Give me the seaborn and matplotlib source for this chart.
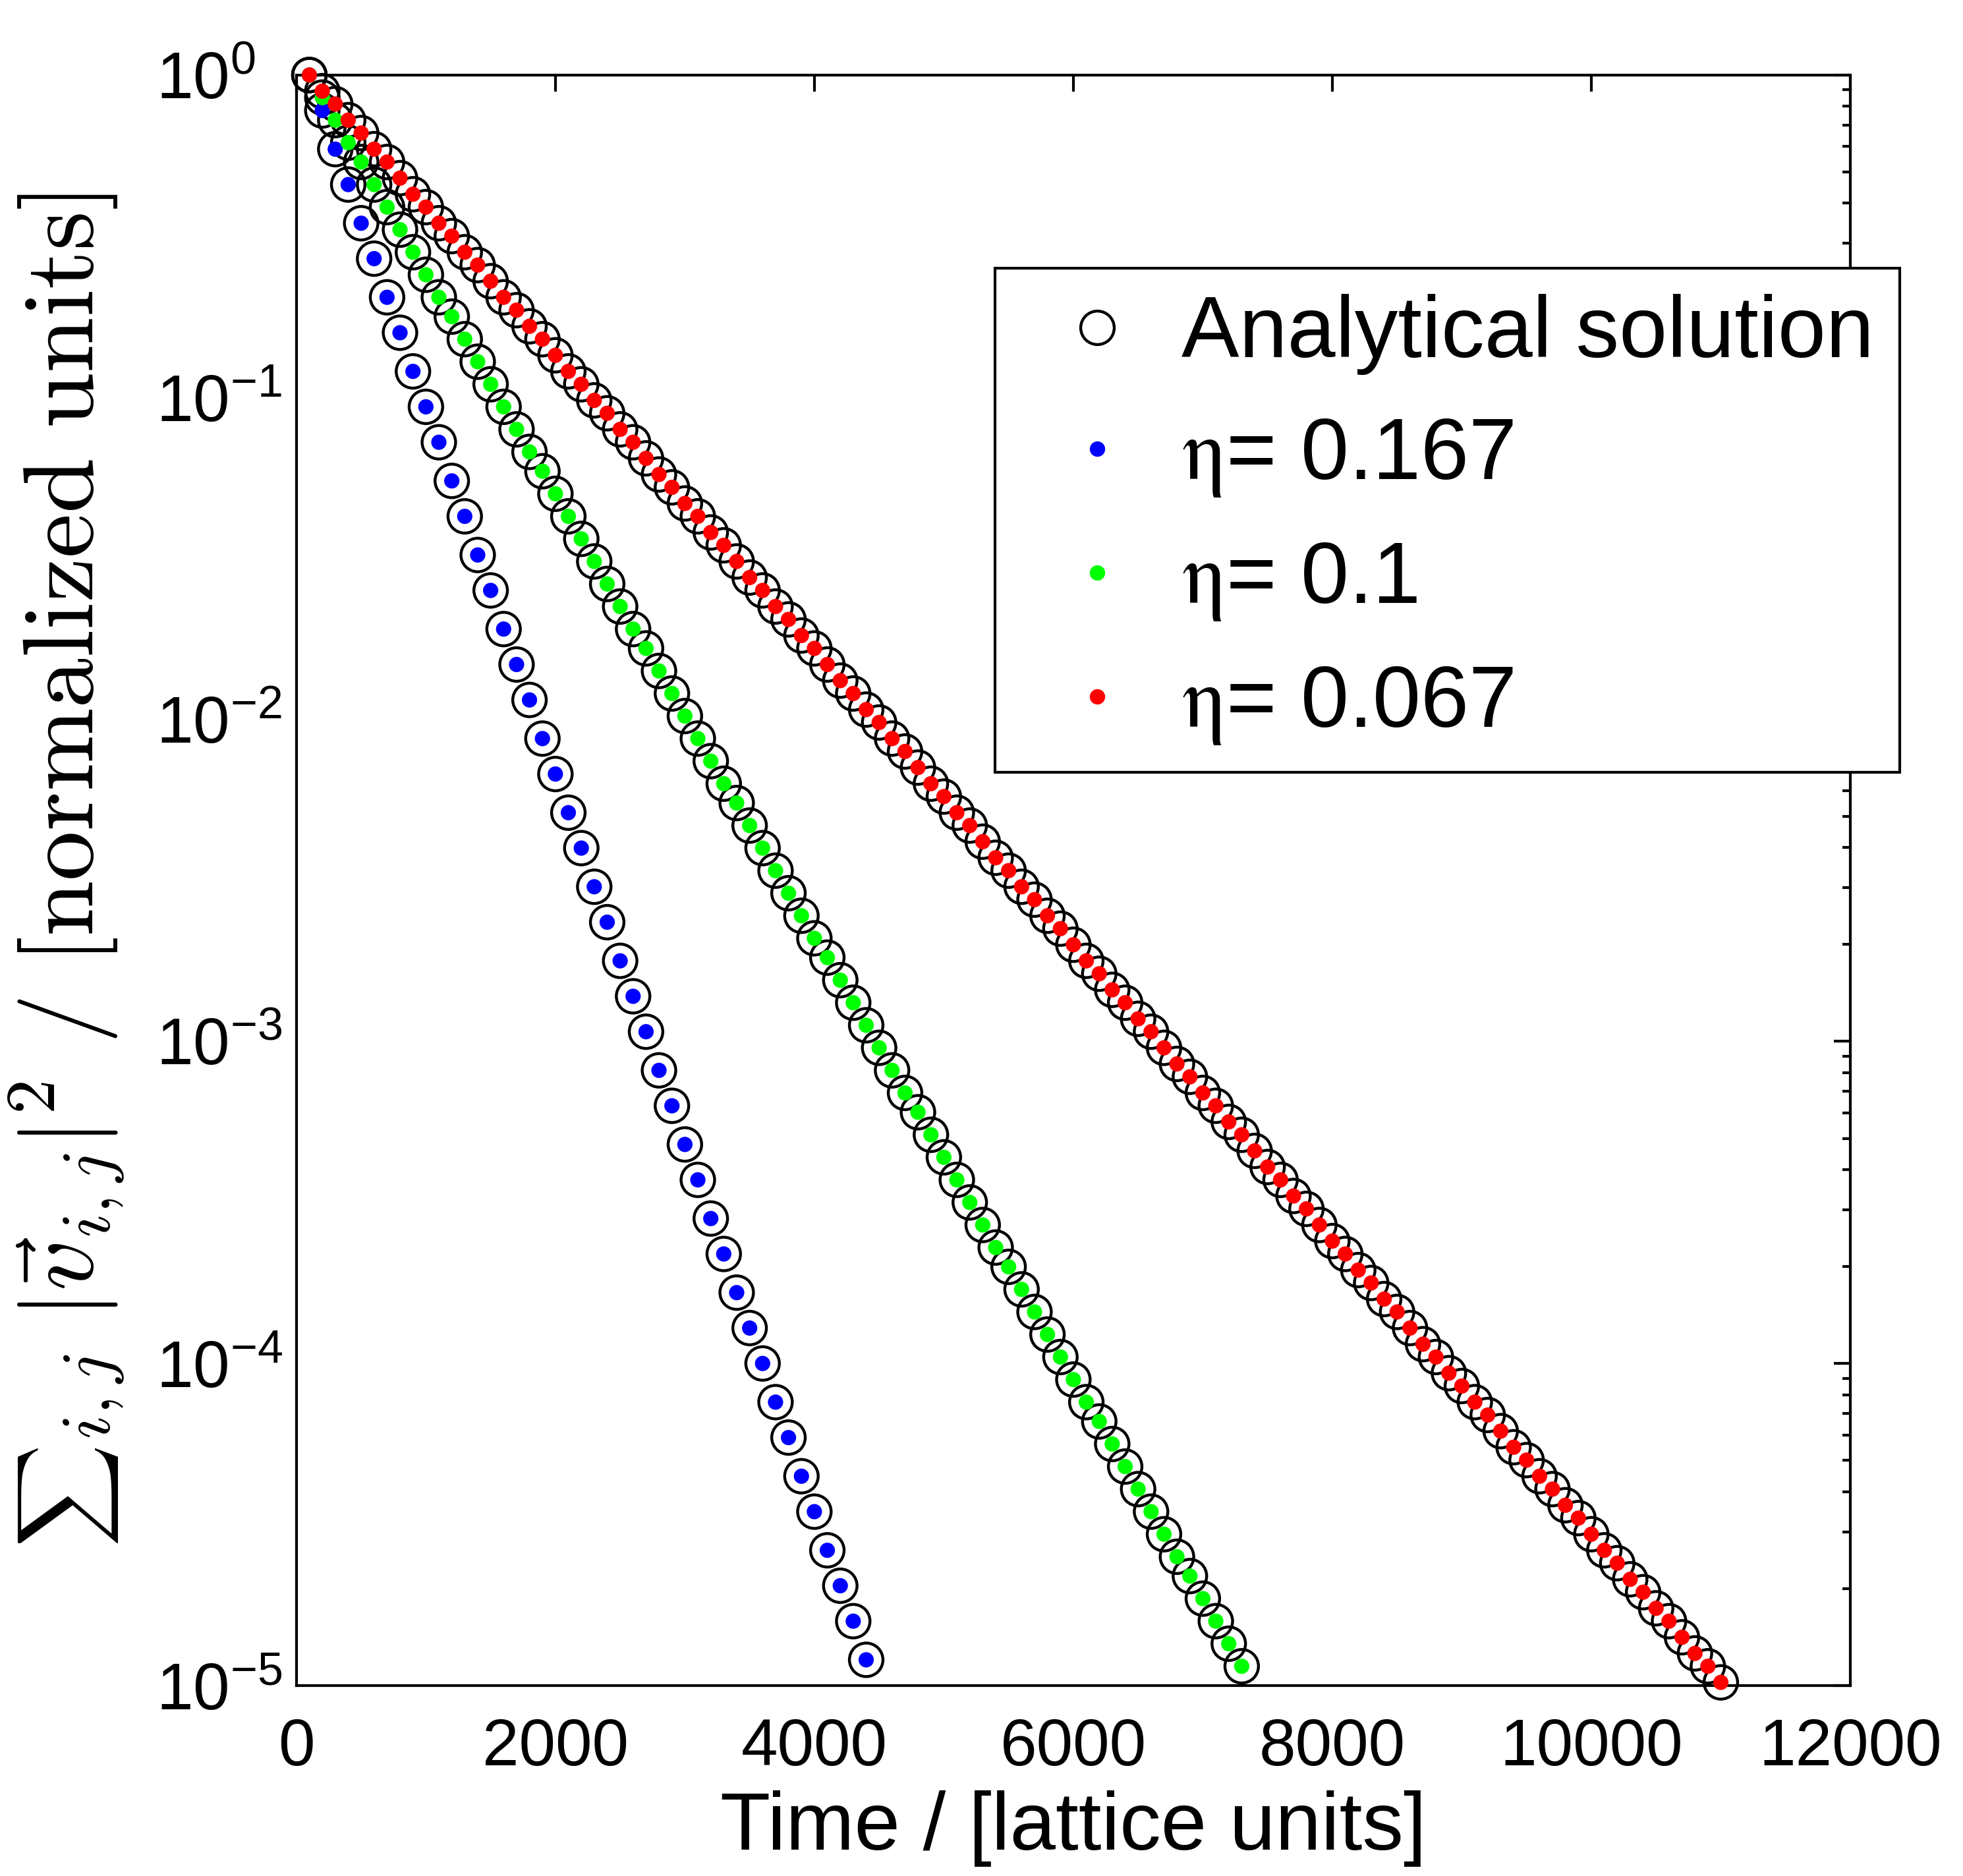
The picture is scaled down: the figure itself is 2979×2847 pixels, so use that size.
import numpy as np
import pandas as pd
import matplotlib
matplotlib.use("Agg")
import matplotlib.pyplot as plt
import seaborn as sns
from matplotlib.ticker import FixedLocator, LogLocator, FuncFormatter, NullFormatter
from matplotlib.lines import Line2D
from matplotlib.font_manager import FontProperties

# --- data ---
# sampling times (lattice units), shared by all runs
time_steps = [
    100, 200, 300, 400, 500, 600, 700, 800, 900, 1000,
    1100, 1200, 1300, 1400, 1500, 1600, 1700, 1800, 1900, 2000,
    2100, 2200, 2300, 2400, 2500, 2600, 2700, 2800, 2900, 3000,
    3100, 3200, 3300, 3400, 3500, 3600, 3700, 3800, 3900, 4000,
    4100, 4200, 4300, 4400, 4500, 4600, 4700, 4800, 4900, 5000,
    5100, 5200, 5300, 5400, 5500, 5600, 5700, 5800, 5900, 6000,
    6100, 6200, 6300, 6400, 6500, 6600, 6700, 6800, 6900, 7000,
    7100, 7200, 7300, 7400, 7500, 7600, 7700, 7800, 7900, 8000,
    8100, 8200, 8300, 8400, 8500, 8600, 8700, 8800, 8900, 9000,
    9100, 9200, 9300, 9400, 9500, 9600, 9700, 9800, 9900, 10000,
    10100, 10200, 10300, 10400, 10500, 10600, 10700, 10800, 10900, 11000,
]

# log10 of the normalised kinetic energy, one list per viscosity
log_energy_167 = [
    0.00, -0.11, -0.23, -0.34, -0.46, -0.57, -0.69, -0.80, -0.92, -1.03,
    -1.14, -1.26, -1.37, -1.49, -1.60, -1.72, -1.83, -1.94, -2.06, -2.17,
    -2.29, -2.40, -2.52, -2.63, -2.75, -2.86, -2.97, -3.09, -3.20, -3.32,
    -3.43, -3.55, -3.66, -3.78, -3.89, -4.00, -4.12, -4.23, -4.35, -4.46,
    -4.58, -4.69, -4.80, -4.92,
]
log_energy_100 = [
    0.00, -0.07, -0.14, -0.21, -0.27, -0.34, -0.41, -0.48, -0.55, -0.62,
    -0.69, -0.75, -0.82, -0.89, -0.96, -1.03, -1.10, -1.17, -1.23, -1.30,
    -1.37, -1.44, -1.51, -1.58, -1.65, -1.72, -1.78, -1.85, -1.92, -1.99,
    -2.06, -2.13, -2.20, -2.26, -2.33, -2.40, -2.47, -2.54, -2.61, -2.68,
    -2.74, -2.81, -2.88, -2.95, -3.02, -3.09, -3.16, -3.22, -3.29, -3.36,
    -3.43, -3.50, -3.57, -3.64, -3.70, -3.77, -3.84, -3.91, -3.98, -4.05,
    -4.12, -4.18, -4.25, -4.32, -4.39, -4.46, -4.53, -4.60, -4.66, -4.73,
    -4.80, -4.87, -4.94,
]
log_energy_067 = [
    0.00, -0.05, -0.09, -0.14, -0.18, -0.23, -0.27, -0.32, -0.37, -0.41,
    -0.46, -0.50, -0.55, -0.59, -0.64, -0.69, -0.73, -0.78, -0.82, -0.87,
    -0.92, -0.96, -1.01, -1.05, -1.10, -1.14, -1.19, -1.24, -1.28, -1.33,
    -1.37, -1.42, -1.46, -1.51, -1.56, -1.60, -1.65, -1.69, -1.74, -1.78,
    -1.83, -1.88, -1.92, -1.97, -2.01, -2.06, -2.10, -2.15, -2.20, -2.24,
    -2.29, -2.33, -2.38, -2.43, -2.47, -2.52, -2.56, -2.61, -2.65, -2.70,
    -2.75, -2.79, -2.84, -2.88, -2.93, -2.97, -3.02, -3.07, -3.11, -3.16,
    -3.20, -3.25, -3.29, -3.34, -3.39, -3.43, -3.48, -3.52, -3.57, -3.62,
    -3.66, -3.71, -3.75, -3.80, -3.84, -3.89, -3.94, -3.98, -4.03, -4.07,
    -4.12, -4.16, -4.21, -4.26, -4.30, -4.35, -4.39, -4.44, -4.48, -4.53,
    -4.58, -4.62, -4.67, -4.71, -4.76, -4.80, -4.85, -4.90, -4.94, -4.99,
]

eta_labels = ["0.167", "0.1", "0.067"]
eta_colors = ["#0000ff", "#00ff00", "#ff0000"]
x_ticks = [0, 2000, 4000, 6000, 8000, 10000, 12000]
y_ticks = [1e-5, 1e-4, 1e-3, 1e-2, 1e-1, 1]

# --- build a long table ---
frames = []
for lab, logs in zip(eta_labels, [log_energy_167, log_energy_100, log_energy_067]):
    frames.append(pd.DataFrame({
        "time": time_steps[:len(logs)],
        "energy": 10.0 ** np.array(logs),
        "eta": lab,
    }))
df = pd.concat(frames, ignore_index=True)

# --- style ---
sns.set_style("white")
plt.rcParams["font.family"] = ["Liberation Sans", "DejaVu Sans"]
plt.rcParams["axes.linewidth"] = 1.0
for key in ["text.color", "axes.labelcolor", "xtick.color", "ytick.color", "axes.edgecolor"]:
    plt.rcParams[key] = "black"

fig = plt.figure(figsize=(2979 / 300, 2847 / 300), dpi=300)
ax = fig.add_axes([0.151, 0.1015, 0.7916, 0.8585])

# analytical solution: open black circles
sns.scatterplot(data=df, x="time", y="energy", marker="o", s=149,
                facecolors="none", edgecolor="black", linewidth=1.05,
                legend=False, clip_on=False, zorder=3, ax=ax)
# simulation: small filled dots
sns.scatterplot(data=df, x="time", y="energy", hue="eta",
                palette=dict(zip(eta_labels, eta_colors)), marker="o", s=31,
                linewidth=0, legend=False, clip_on=False, zorder=4, ax=ax)

ax.set_yscale("log")
ax.set_xlim(0, 12000)
ax.set_ylim(1e-5, 1)
ax.xaxis.set_major_locator(FixedLocator(x_ticks))
ax.yaxis.set_major_locator(FixedLocator(y_ticks))
ax.yaxis.set_minor_locator(LogLocator(base=10, subs=np.arange(2, 10), numticks=20))
ax.yaxis.set_minor_formatter(NullFormatter())
ax.yaxis.set_major_formatter(FuncFormatter(
    lambda v, p: r"$\mathregular{10^{%d}}$" % int(round(np.log10(v)))))

ax.tick_params(which="both", direction="in", top=True, right=True,
               width=1.0, labelsize=24)
ax.tick_params(which="major", length=6)
ax.tick_params(which="minor", length=3)
ax.tick_params(axis="x", pad=11.5)
ax.tick_params(axis="y", pad=51)
for lbl in ax.get_yticklabels():
    lbl.set_horizontalalignment("left")

ax.set_xlabel("Time / [lattice units]", fontsize=30, labelpad=4)
ax.set_ylabel("")

# y label in computer modern, the sum sign set at text size
base_x = 142 / 2979
join_y = 1 - 2190 / 2847
em_frac = 36.5 / 72 * 300 / 2979
fig.text(base_x, join_y,
         r"${}_{i,j}\ |\vec{v}_{i,j}|^2\ /\ [\mathrm{normalized\ units}]$",
         rotation=90, rotation_mode="anchor", ha="left", va="baseline",
         fontsize=36.5, math_fontfamily="cm")
fig.text(base_x - 0.25 * em_frac, join_y - 6 / 2847, r"$\sum$",
         rotation=90, rotation_mode="anchor", ha="right", va="center",
         fontsize=26, math_fontfamily="cm")

# legend
handles = [Line2D([], [], ls="", marker="o", ms=12.2, mfc="none", mec="black", mew=1.05)]
for c in eta_colors:
    handles.append(Line2D([], [], ls="", marker="o", ms=5.6, mfc=c, mec=c, mew=0))
labels = ["Analytical solution"] + [r"$\mathrm{\eta}$= " + lab for lab in eta_labels]
leg_font = FontProperties(family=["Liberation Sans", "DejaVu Sans"], size=31.5,
                          math_fontfamily="stix")
leg = fig.legend(handles, labels, loc="upper left", bbox_to_anchor=(0.507, 0.857),
                 prop=leg_font, frameon=True, fancybox=False, shadow=False,
                 framealpha=1, edgecolor="black", borderpad=0.3,
                 handlelength=1.75, handletextpad=0.1, labelspacing=0.47,
                 borderaxespad=0)
leg.get_frame().set_linewidth(1.0)

fig.savefig("out.png", dpi=300)
